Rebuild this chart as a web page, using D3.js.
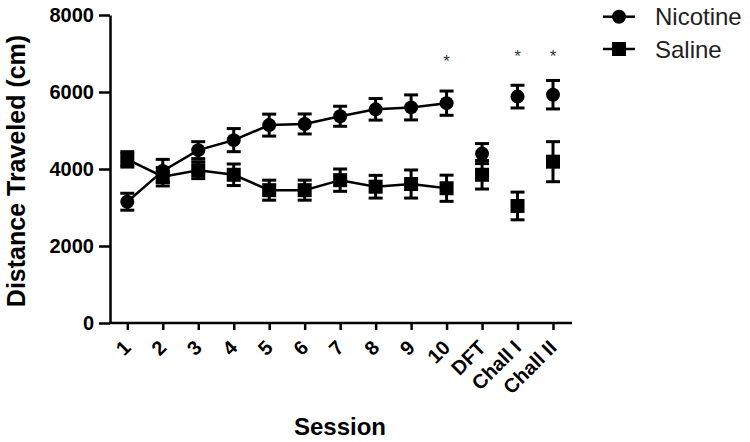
<!DOCTYPE html>
<html>
<head>
<meta charset="utf-8">
<script src="https://cdn.jsdelivr.net/npm/d3@7"></script>
<style>
  body { margin: 0; background: #fff; }
  svg { display: block; font-family: "Liberation Sans", Arial, sans-serif; }
</style>
</head>
<body>
<div id="chart"></div>
<script>
// data (mean +/- SEM)
const sessions = ["1", "2", "3", "4", "5", "6", "7", "8", "9", "10", "DFT", "Chall I", "Chall II"];
const nicotineMean = [3150, 3950, 4490, 4750, 5140, 5170, 5370, 5550, 5600, 5710, 4400, 5880, 5930];
const nicotineSem = [220, 300, 220, 300, 285, 260, 260, 280, 325, 315, 260, 295, 370];
const salineMean = [4250, 3800, 3970, 3850, 3450, 3450, 3710, 3540, 3610, 3500, 3850, 3040, 4190];
const salineSem = [200, 240, 220, 280, 260, 260, 290, 295, 365, 340, 370, 360, 520];
const connectedCount = 10; // sessions 1-10 joined by lines
const yTicks = [0, 2000, 4000, 6000, 8000];
const starSessions = ["10", "Chall I", "Chall II"];
const starLevels = [6850, 7000, 7000];

const width = 750, height = 442;
const axisX = 110, axisY = 323, axisTop = 15, axisRight = 572;

const svg = d3.select("#chart").append("svg")
  .attr("width", width)
  .attr("height", height);

const x = d3.scalePoint().domain(sessions).range([127.3, 553]);
const y = d3.scaleLinear().domain([0, 8000]).range([axisY, axisTop]);

// y axis
const yAxis = svg.append("g")
  .attr("transform", `translate(${axisX},0)`)
  .call(d3.axisLeft(y).tickValues(yTicks).tickFormat(d3.format("d"))
    .tickSize(11).tickSizeOuter(0).tickPadding(5));
yAxis.select(".domain").attr("stroke-width", 2.5);
yAxis.selectAll(".tick line").attr("stroke-width", 2.5);
yAxis.selectAll("text")
  .attr("font-size", "20px")
  .attr("font-weight", "bold")
  .attr("font-family", "Liberation Sans, Arial, sans-serif")
  .attr("fill", "#000");

// x axis
const xAxis = svg.append("g")
  .attr("transform", `translate(0,${axisY})`)
  .call(d3.axisBottom(x).tickSize(7).tickSizeOuter(0).tickFormat(""));
xAxis.select(".domain").remove();
xAxis.selectAll(".tick line").attr("stroke-width", 2.5);
xAxis.append("line")
  .attr("x1", axisX - 1).attr("x2", axisRight)
  .attr("y1", 0).attr("y2", 0)
  .attr("stroke", "#000").attr("stroke-width", 2.5);

svg.append("g").selectAll("text")
  .data(sessions)
  .enter()
  .append("text")
  .attr("transform", (d) => `translate(${x(d) - 5},${axisY + 16}) rotate(-45)`)
  .attr("text-anchor", "end")
  .attr("dy", "0.7em")
  .attr("font-size", "20px")
  .attr("font-weight", "bold")
  .text((d) => d);

// axis titles
svg.append("text")
  .attr("transform", `translate(25,${(axisTop + axisY) / 2 + 2}) rotate(-90)`)
  .attr("text-anchor", "middle")
  .attr("font-size", "25px")
  .attr("font-weight", "bold")
  .text("Distance Traveled (cm)");

svg.append("text")
  .attr("x", 340)
  .attr("y", 435)
  .attr("text-anchor", "middle")
  .attr("font-size", "24px")
  .attr("font-weight", "bold")
  .text("Session");

// series
const series = [
  { name: "Nicotine", mean: nicotineMean, sem: nicotineSem, shape: "circle" },
  { name: "Saline", mean: salineMean, sem: salineSem, shape: "square" },
];

function drawMarker(g, shape, cx, cy) {
  if (shape === "circle") {
    g.append("circle").attr("cx", cx).attr("cy", cy).attr("r", 7).attr("fill", "#000");
  } else {
    g.append("rect").attr("x", cx - 7).attr("y", cy - 7)
      .attr("width", 14).attr("height", 14).attr("fill", "#000");
  }
}

const line = d3.line().x((d) => x(d.s)).y((d) => y(d.m));

series.forEach((se) => {
  const pts = sessions.map((s, i) => ({ s, m: se.mean[i], e: se.sem[i] }));
  const g = svg.append("g");

  g.append("path")
    .datum(pts.slice(0, connectedCount))
    .attr("d", line)
    .attr("fill", "none")
    .attr("stroke", "#000")
    .attr("stroke-width", 2.5);

  pts.forEach((d) => {
    const cx = x(d.s);
    g.append("line")
      .attr("x1", cx).attr("x2", cx)
      .attr("y1", y(d.m - d.e)).attr("y2", y(d.m + d.e))
      .attr("stroke", "#000").attr("stroke-width", 3);
    [d.m - d.e, d.m + d.e].forEach((v) => {
      g.append("line")
        .attr("x1", cx - 7).attr("x2", cx + 7)
        .attr("y1", y(v)).attr("y2", y(v))
        .attr("stroke", "#000").attr("stroke-width", 3);
    });
    drawMarker(g, se.shape, cx, y(d.m));
  });
});

// significance stars
svg.append("g").selectAll("text")
  .data(starSessions)
  .enter()
  .append("text")
  .attr("x", (d) => x(d))
  .attr("y", (d, i) => y(starLevels[i]) + 8)
  .attr("text-anchor", "middle")
  .attr("font-size", "17px")
  .attr("fill", "#333")
  .text("*");

// legend
const legend = svg.append("g");
series.forEach((se, i) => {
  const ly = 16.7 + i * 32.3;
  legend.append("line")
    .attr("x1", 603).attr("x2", 635)
    .attr("y1", ly).attr("y2", ly)
    .attr("stroke", "#000").attr("stroke-width", 2.5);
  drawMarker(legend, se.shape, 619, ly);
  legend.append("text")
    .attr("x", 655)
    .attr("y", ly + 8.5)
    .attr("font-size", "24px")
    .attr("fill", "#222")
    .text(se.name);
});
</script>
</body>
</html>
